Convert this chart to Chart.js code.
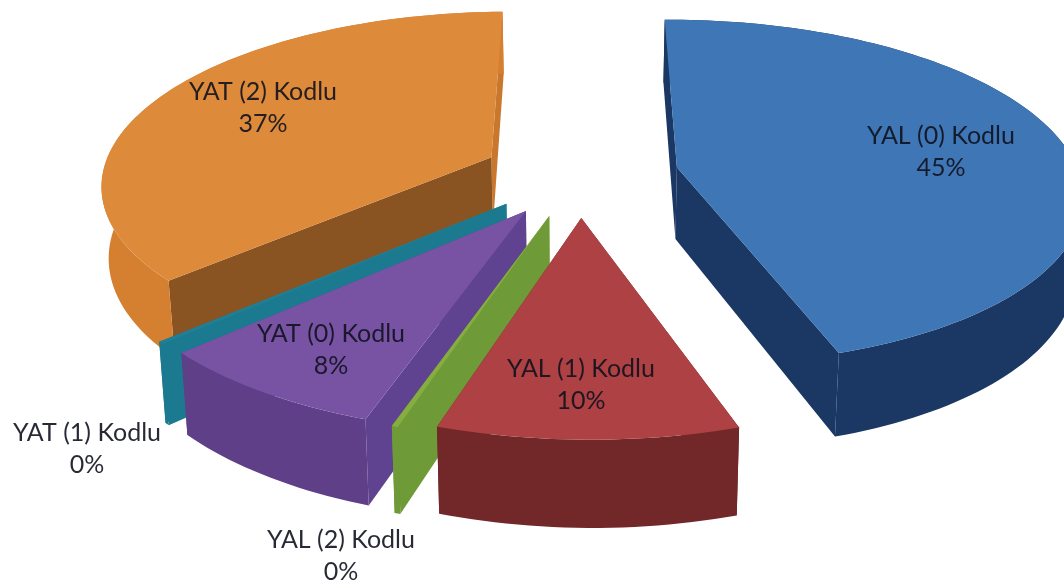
<!DOCTYPE html>
<html>
<head>
<meta charset="utf-8">
<script src="https://cdn.jsdelivr.net/npm/chart.js@4"></script>
<style>
html,body{margin:0;padding:0;background:#fff;overflow:hidden}
canvas{display:block;filter:blur(0.7px)}
</style>
</head>
<body>
<canvas id="c" width="1064" height="587"></canvas>
<script>
// Data
const categories = ["YAL (0) Kodlu","YAL (1) Kodlu","YAL (2) Kodlu","YAT (0) Kodlu","YAT (1) Kodlu","YAT (2) Kodlu"];
const shares = [45, 10, 0.2, 8, 0.2, 37];
const faceColors = ["#3f76b6","#ae4143","#86ad3f","#7853a4","#1f7f96","#dd8a3b"];
const startWallColors = ["#1b3763","#70282a","#6f9a38","#5f4390","#1c7a90","#8a5422"];
const endWallColors = ["#1b3763","#70282a","#6f9a38","#5f4390","#1c7a90","#c9772c"];
const rimColors = ["#1b3763","#722729","#6f9a38","#5e3f88","#1c7a90","#d57f31"];
const sliceReach = [0.96, 0.985, 1, 1, 1, 0.97];
// Label anchors (centre of the text block) on the page
const labelCentres = [[941,152],[581,385],[341,556],[331,350],[87,449],[263,108]];

// Perspective view of the exploded pie
const VIEW = {cx:580, cy:174, fx:410, fy:177, perspY:0.15, perspX:0.015, explode:0.24, wall:72, wallShrink:0.985};

function project(X, Y){
  const w = 1 - VIEW.perspY * Y - VIEW.perspX * X;
  return {x: VIEW.cx + VIEW.fx * X / w, y: VIEW.cy + VIEW.fy * Y / w, w};
}
function lower(p){
  return {x: VIEW.cx + (p.x - VIEW.cx) * VIEW.wallShrink, y: p.y + VIEW.wall / p.w};
}
function poly(ctx, pts, fill){
  ctx.beginPath();
  pts.forEach((p,i)=> i ? ctx.lineTo(p.x,p.y) : ctx.moveTo(p.x,p.y));
  ctx.closePath();
  ctx.fillStyle = fill;
  ctx.fill();
}

const pie3d = {
  id:'pie3d',
  beforeDatasetDraw(chart, args){
    const ctx = chart.ctx;
    const arcs = chart.getDatasetMeta(args.index).data;
    const slices = arcs.map((arc,i)=>{
      const a0 = arc.startAngle + Math.PI/2, a1 = arc.endAngle + Math.PI/2, mid = (a0+a1)/2;
      return {i,a0,a1,mid,ox:VIEW.explode*Math.sin(mid),oy:-VIEW.explode*Math.cos(mid)};
    }).sort((s,t)=>(-Math.cos(s.mid))-(-Math.cos(t.mid)));
    slices.forEach(s=>{
      const apex = project(s.ox,s.oy);
      const reach = sliceReach[s.i];
      const n = Math.max(2,Math.ceil((s.a1-s.a0)*40));
      const rim = [];
      for(let k=0;k<=n;k++){
        const a = s.a0+(s.a1-s.a0)*k/n;
        rim.push(project(s.ox+reach*Math.sin(a), s.oy-reach*Math.cos(a)));
      }
      const first = rim[0], last = rim[rim.length-1];
      poly(ctx,[apex,last,lower(last),lower(apex)],endWallColors[s.i]);
      poly(ctx,[apex,first,lower(first),lower(apex)],startWallColors[s.i]);
      poly(ctx,rim.concat(rim.map(lower).reverse()),rimColors[s.i]);
      poly(ctx,[apex].concat(rim),faceColors[s.i]);
    });
    return false;
  },
  afterDatasetsDraw(chart){
    const ctx = chart.ctx;
    const total = shares.reduce((a,b)=>a+b,0);
    ctx.save();
    ctx.font = '25px Lato';
    ctx.textAlign = 'center';
    ctx.textBaseline = 'middle';
    ctx.fillStyle = 'rgba(16,18,30,0.9)';
    categories.forEach((name,i)=>{
      const [x,y] = labelCentres[i];
      ctx.fillText(name, x, y-16);
      ctx.fillText(Math.round(shares[i]/total*100)+'%', x, y+16);
    });
    ctx.restore();
  }
};

new Chart(document.getElementById('c'),{
  type:'pie',
  data:{labels:categories,datasets:[{data:shares,backgroundColor:faceColors,borderWidth:0}]},
  options:{
    responsive:false,
    animation:false,
    rotation:0,
    plugins:{legend:{display:false},tooltip:{enabled:false}}
  },
  plugins:[pie3d]
});
</script>
</body>
</html>
